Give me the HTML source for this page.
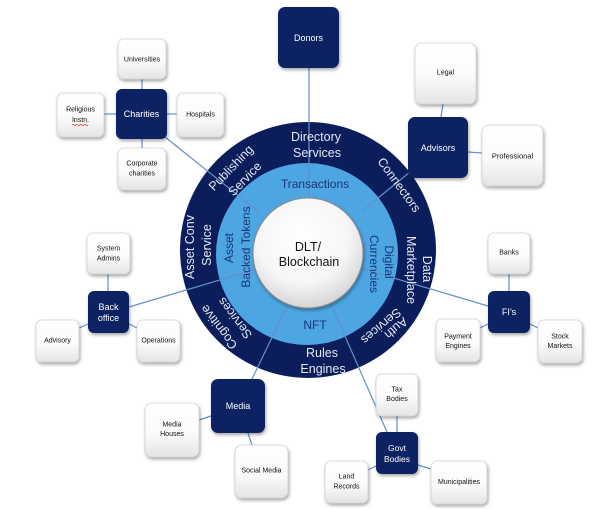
<!DOCTYPE html>
<html><head><meta charset="utf-8"><style>
html,body{margin:0;padding:0;background:#fff;}
svg{display:block;}
text{font-family:"Liberation Sans",Arial,sans-serif;}
</style></head><body>
<svg width="600" height="509" viewBox="0 0 600 509" xmlns="http://www.w3.org/2000/svg">
<defs>
<filter id="sh" x="-20%" y="-20%" width="150%" height="150%">
<feDropShadow dx="1" dy="2" stdDeviation="1.5" flood-color="#000" flood-opacity="0.35"/>
</filter>
<linearGradient id="wg" x1="0" y1="0" x2="0" y2="1">
<stop offset="0" stop-color="#ffffff"/><stop offset="0.55" stop-color="#fbfbfb"/><stop offset="1" stop-color="#e4e4e4"/>
</linearGradient>
<radialGradient id="cg" cx="0.45" cy="0.35" r="0.7">
<stop offset="0" stop-color="#ffffff"/><stop offset="0.6" stop-color="#f6f6f6"/><stop offset="1" stop-color="#cfcfcf"/>
</radialGradient>
</defs>

<!-- rings -->
<circle cx="308" cy="250" r="128" fill="#0b1e5b"/>
<circle cx="307" cy="254" r="91" fill="#4da6e2"/>

<!-- connectors -->
<g stroke="#6390c8" stroke-width="1.2" fill="none">
<line x1="309" y1="68" x2="309" y2="205"/>
<line x1="165" y1="137" x2="260" y2="213"/>
<line x1="410" y1="172" x2="362" y2="211"/>
<line x1="129" y1="307" x2="260" y2="268"/>
<line x1="488" y1="306" x2="360" y2="268"/>
<line x1="252" y1="379" x2="290" y2="300"/>
<line x1="387" y1="432" x2="330" y2="302"/>
<!-- charities spokes -->
<line x1="142" y1="79" x2="142" y2="89"/>
<line x1="104" y1="114" x2="116" y2="114"/>
<line x1="167" y1="114" x2="177" y2="114"/>
<line x1="142" y1="139" x2="142" y2="148"/>
<!-- advisors spokes -->
<line x1="443" y1="104" x2="441" y2="117"/>
<line x1="468" y1="152" x2="482" y2="153"/>
<!-- back office spokes -->
<line x1="108" y1="274" x2="108" y2="291"/>
<line x1="79" y1="328" x2="88" y2="324"/>
<line x1="129" y1="324" x2="137" y2="328"/>
<!-- FI spokes -->
<line x1="509" y1="274" x2="509" y2="291"/>
<line x1="480" y1="328" x2="488" y2="324"/>
<line x1="530" y1="324" x2="538" y2="328"/>
<!-- media spokes -->
<line x1="199" y1="420" x2="211" y2="416"/>
<line x1="248" y1="433" x2="252" y2="445"/>
<!-- govt spokes -->
<line x1="397" y1="416" x2="397" y2="432"/>
<line x1="368" y1="470" x2="376" y2="466"/>
<line x1="418" y1="465" x2="431" y2="469"/>
</g>

<!-- center circle -->
<circle cx="308" cy="253" r="55" fill="url(#cg)" stroke="#8c8c8c" stroke-width="1" filter="url(#sh)"/>
<text x="308" y="247" font-size="12.5" fill="#111" text-anchor="middle" dominant-baseline="central">DLT/</text>
<text x="309" y="262" font-size="12.5" fill="#111" text-anchor="middle" dominant-baseline="central">Blockchain</text>

<!-- dark ring text -->
<g fill="#e3e8f3" font-size="12.5" text-anchor="middle" dominant-baseline="central">
<text x="316" y="137">Directory</text>
<text x="317" y="153">Services</text>
<text x="322" y="353">Rules</text>
<text x="323" y="369">Engines</text>
<text transform="translate(190,247) rotate(-90)">Asset Conv</text>
<text transform="translate(207,245) rotate(-90)">Service</text>
<text transform="translate(427,269) rotate(90)">Data</text>
<text transform="translate(411,270) rotate(90)">Marketplace</text>
<text transform="translate(231,168) rotate(-46)">Publishing</text>
<text transform="translate(245,179) rotate(-46)">Service</text>
<text transform="translate(399,185) rotate(54)">Connectors</text>
<text transform="translate(219,327) rotate(-127)">Cognitive</text>
<text transform="translate(235,318) rotate(-127)">Services</text>
<text transform="translate(396,328) rotate(140)">Auth</text>
<text transform="translate(381,326) rotate(140)">Services</text>
</g>

<!-- light ring text -->
<g fill="#1b3574" font-size="12" text-anchor="middle" dominant-baseline="central">
<text x="315" y="184">Transactions</text>
<text x="315" y="325">NFT</text>
<text transform="translate(229,248) rotate(-90)">Asset</text>
<text transform="translate(246,247) rotate(-90)">Backed Tokens</text>
<text transform="translate(389,262) rotate(90)">Digital</text>
<text transform="translate(374,264) rotate(90)">Currencies</text>
</g>

<!-- navy boxes -->
<g fill="#0e2162" filter="url(#sh)">
<rect x="278" y="7" width="61" height="61" rx="7"/>
<rect x="116" y="89" width="51" height="50" rx="6"/>
<rect x="408" y="117" width="60" height="61" rx="7"/>
<rect x="88" y="291" width="41" height="42" rx="6"/>
<rect x="488" y="291" width="42" height="42" rx="6"/>
<rect x="211" y="379" width="54" height="54" rx="7"/>
<rect x="376" y="432" width="42" height="42" rx="6"/>
</g>
<g fill="#ffffff" font-size="9" text-anchor="middle" dominant-baseline="central">
<text x="308.5" y="38">Donors</text>
<text x="141.5" y="114">Charities</text>
<text x="438" y="148">Advisors</text>
<text x="108.5" y="307">Back</text>
<text x="108.5" y="318">office</text>
<text x="509" y="312">FI’s</text>
<text x="238" y="406">Media</text>
<text x="397" y="448" font-size="8.5">Govt</text>
<text x="397" y="459" font-size="8.5">Bodies</text>
</g>

<!-- white boxes -->
<g fill="url(#wg)" stroke="#d2d2d2" stroke-width="0.8" filter="url(#sh)">
<rect x="118" y="39" width="48" height="40" rx="6"/>
<rect x="57" y="93" width="47" height="44" rx="6"/>
<rect x="177" y="93" width="47" height="44" rx="6"/>
<rect x="118" y="148" width="48" height="42" rx="6"/>
<rect x="415" y="43" width="61" height="61" rx="7"/>
<rect x="482" y="125" width="61" height="61" rx="7"/>
<rect x="87" y="233" width="43" height="41" rx="6"/>
<rect x="36" y="320" width="43" height="42" rx="6"/>
<rect x="137" y="320" width="43" height="42" rx="6"/>
<rect x="488" y="233" width="42" height="41" rx="6"/>
<rect x="436" y="319" width="44" height="43" rx="6"/>
<rect x="538" y="320" width="44" height="43" rx="6"/>
<rect x="145" y="403" width="54" height="54" rx="7"/>
<rect x="235" y="445" width="53" height="53" rx="7"/>
<rect x="376" y="374" width="42" height="42" rx="6"/>
<rect x="325" y="461" width="43" height="42" rx="6"/>
<rect x="431" y="461" width="56" height="43" rx="6"/>
</g>
<g fill="#111" font-size="7" text-anchor="middle" dominant-baseline="central">
<text x="142" y="60">Universities</text>
<text x="80.5" y="110">Religious</text>
<text x="80.5" y="120.5">Instn.</text>
<text x="200.5" y="115">Hospitals</text>
<text x="142" y="164">Corporate</text>
<text x="142" y="174">charities</text>
<text x="445.5" y="73">Legal</text>
<text x="512.5" y="156" font-size="7.5">Professional</text>
<text x="108.5" y="249">System</text>
<text x="108.5" y="259">Admins</text>
<text x="57.5" y="341">Advisory</text>
<text x="158.5" y="341">Operations</text>
<text x="509" y="253">Banks</text>
<text x="458" y="337">Payment</text>
<text x="458" y="346.5">Engines</text>
<text x="560" y="337">Stock</text>
<text x="560" y="346.5">Markets</text>
<text x="172" y="425">Media</text>
<text x="172" y="434.5">Houses</text>
<text x="261.5" y="471">Social Media</text>
<text x="397" y="390">Tax</text>
<text x="397" y="399.5">Bodies</text>
<text x="346.5" y="477">Land</text>
<text x="346.5" y="487">Records</text>
<text x="459" y="482.5">Municipalities</text>
</g>
<!-- spell-check squiggle -->
<path d="M72,125 q1,-1 2,0 t2,0 t2,0 t2,0 t2,0 t2,0 t2,0 t2,0" stroke="#e03030" stroke-width="0.7" fill="none"/>
</svg>
</body></html>
